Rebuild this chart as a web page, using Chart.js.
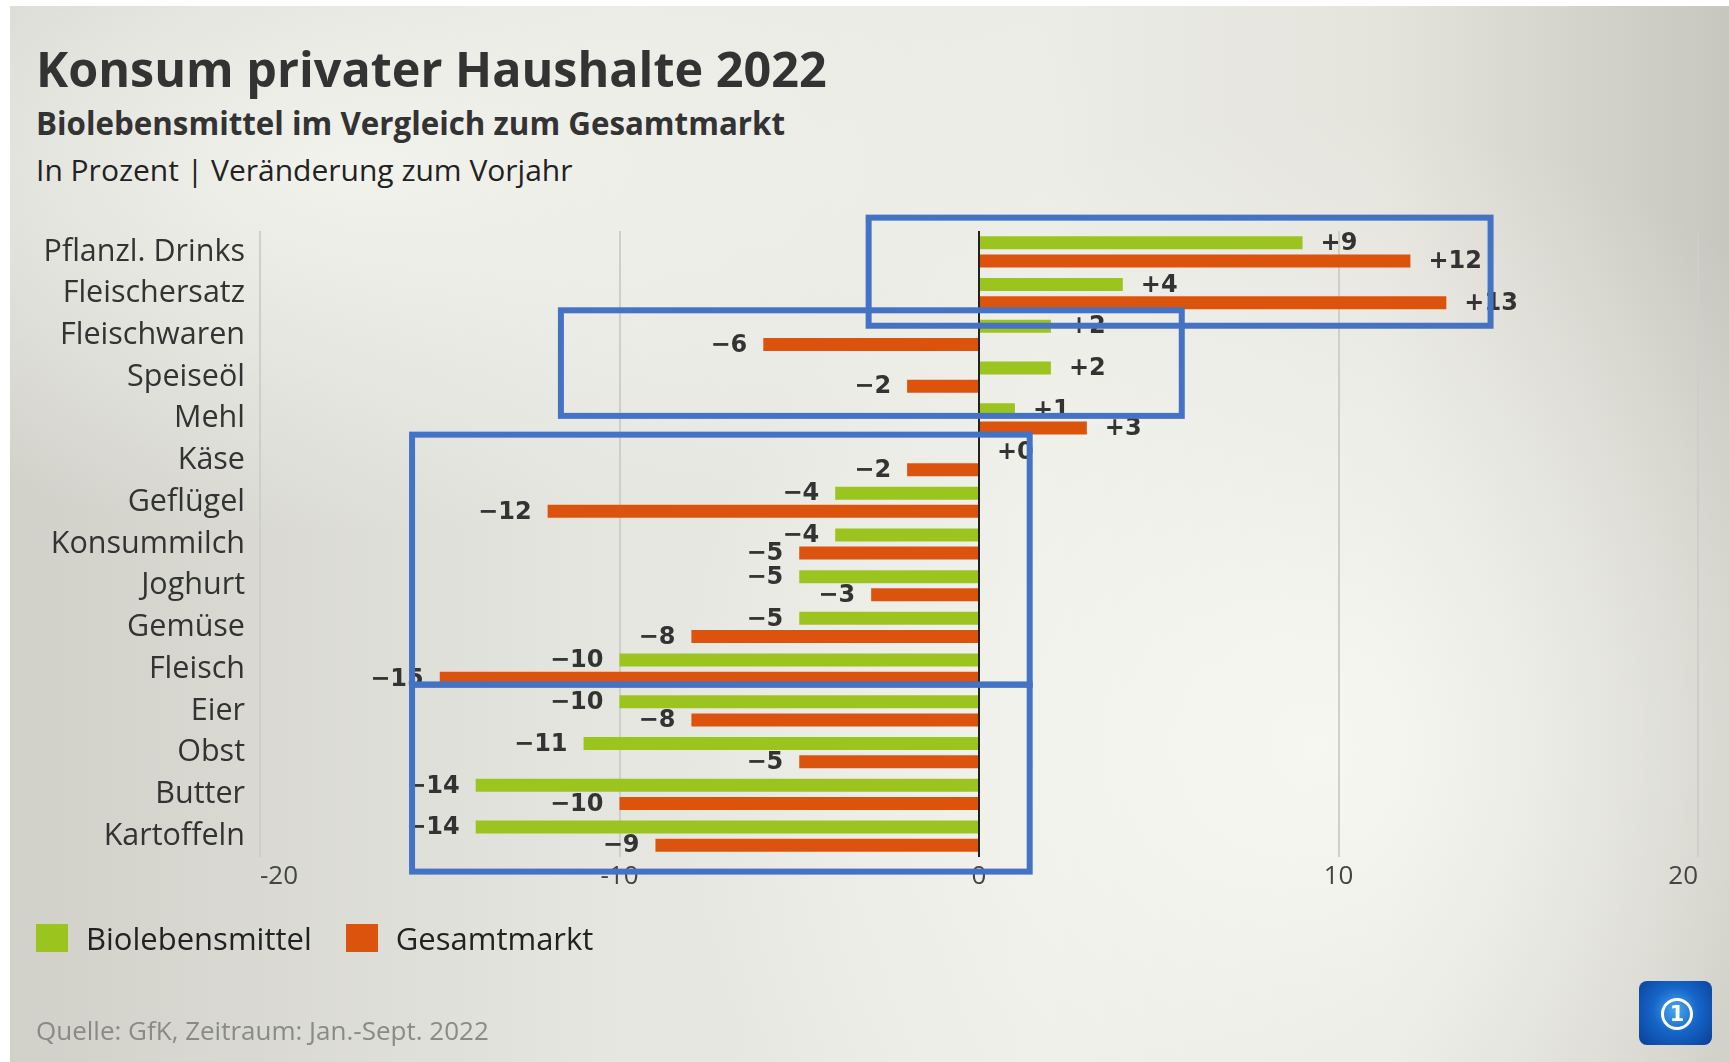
<!DOCTYPE html>
<html lang="de">
<head>
    <meta charset="UTF-8">
    <title>Konsum privater Haushalte 2022</title>
    <script src="https://cdn.jsdelivr.net/npm/chart.js"></script>
    <style>
        html, body {
            margin: 0;
            padding: 0;
        }
        body {
            width: 1729px;
            height: 1062px;
            position: relative;
            overflow: hidden;
            background: #fff;
            font-family: "Open Sans", sans-serif;
            color: #333;
        }
        .panel {
            position: absolute;
            left: 10px;
            top: 6px;
            right: 0;
            bottom: 0;
            background:
                radial-gradient(ellipse 38% 60% at 76% 70%, rgba(248,248,243,0.95), rgba(248,248,243,0) 100%),
                radial-gradient(ellipse 45% 35% at 20% 15%, rgba(245,245,240,0.9), rgba(245,245,240,0) 100%),
                linear-gradient(90deg, #d1d1ca 0%, #e6e6e0 35%, #ecece6 60%, #e4e4dd 80%, #c7c7bf 100%);
        }
        #chartBox {
            position: absolute;
            left: 0;
            top: 0;
            width: 1729px;
            height: 1062px;
        }
        .title {
            position: absolute;
            left: 36px;
            top: 44px;
            font-size: 48.5px;
            line-height: 48px;
            font-weight: 700;
            color: #333;
            white-space: nowrap;
        }
        .subtitle {
            position: absolute;
            left: 36px;
            top: 108px;
            font-size: 31.3px;
            line-height: 31px;
            font-weight: 700;
            color: #333;
            white-space: nowrap;
        }
        .unit {
            position: absolute;
            left: 36px;
            top: 155px;
            font-size: 30px;
            line-height: 30px;
            color: #222;
            white-space: nowrap;
        }
        #legend {
            position: absolute;
            left: 36px;
            top: 922px;
            display: flex;
            align-items: center;
            font-size: 31px;
            line-height: 32px;
            color: #222;
        }
        #legend .item {
            display: flex;
            align-items: center;
            margin-right: 34px;
        }
        #legend .swatch {
            width: 32px;
            height: 28px;
            margin-right: 18px;
        }
        .source {
            position: absolute;
            left: 36px;
            top: 1017px;
            font-size: 26px;
            line-height: 26px;
            color: #8a8a86;
            white-space: nowrap;
        }
        .logo {
            position: absolute;
            left: 1639px;
            top: 981px;
            width: 73px;
            height: 64px;
            border-radius: 8px;
            background: radial-gradient(circle at 50% 45%, #4aa8f0 0%, #1565c8 45%, #0a3f95 100%);
        }
        .logo .ring {
            position: absolute;
            left: 22px;
            top: 17px;
            width: 26px;
            height: 26px;
            border: 3px solid #fff;
            border-radius: 50%;
            color: #fff;
            font: bold 21px "DejaVu Sans", sans-serif;
            line-height: 26px;
            text-align: center;
        }
    </style>
</head>
<body>
    <div class="panel"></div>
    <div class="title">Konsum privater Haushalte 2022</div>
    <div class="subtitle">Biolebensmittel im Vergleich zum Gesamtmarkt</div>
    <div class="unit">In Prozent | Veränderung zum Vorjahr</div>
    <div id="chartBox"><canvas id="konsumChart" width="1729" height="1062"></canvas></div>
    <div id="legend"></div>
    <div class="source">Quelle: GfK, Zeitraum: Jan.-Sept. 2022</div>
    <div class="logo"><div class="ring">1</div></div>

    <script>
        // Werte in Prozent, Veränderung zum Vorjahr
        const categories = ['Pflanzl. Drinks', 'Fleischersatz', 'Fleischwaren', 'Speiseöl', 'Mehl',
            'Käse', 'Geflügel', 'Konsummilch', 'Joghurt', 'Gemüse', 'Fleisch', 'Eier', 'Obst',
            'Butter', 'Kartoffeln'];
        const bioValues = [9, 4, 2, 2, 1, 0, -4, -4, -5, -5, -10, -10, -11, -14, -14];
        const gesamtValues = [12, 13, -6, -2, 3, -2, -12, -5, -3, -8, -15, -8, -5, -10, -9];
        const seriesNames = ['Biolebensmittel', 'Gesamtmarkt'];
        const seriesColors = ['#9cc41f', '#dc530e'];
        const xTicks = [-20, -10, 0, 10, 20];

        // blaue Markierungsrahmen (in Achsen-Einheiten: Wert / Kategorie-Index)
        const highlightX = [[-3.07, 14.23], [-11.63, 5.64], [-15.77, 1.41], [-15.77, 1.41]];
        const highlightY = [[-0.82, 1.77], [1.40, 3.93], [4.38, 10.37], [10.37, 14.85]];

        function fmt(v) {
            return (v < 0 ? '\u2212' : '+') + Math.abs(v);
        }

        const valueLabels = {
            id: 'valueLabels',
            afterDatasetsDraw(chart) {
                const ctx = chart.ctx;
                ctx.save();
                ctx.font = 'bold 24px "DejaVu Sans"';
                ctx.fillStyle = '#333';
                ctx.textBaseline = 'middle';
                chart.data.datasets.forEach((ds, di) => {
                    chart.getDatasetMeta(di).data.forEach((bar, i) => {
                        const v = ds.data[i];
                        if (v >= 0) {
                            ctx.textAlign = 'left';
                            ctx.fillText(fmt(v), bar.x + 18, bar.y + 1);
                        } else {
                            ctx.textAlign = 'right';
                            ctx.fillText(fmt(v), bar.x - 16, bar.y + 1);
                        }
                    });
                });
                ctx.restore();
            }
        };

        const zeroLine = {
            id: 'zeroLine',
            beforeDatasetsDraw(chart) {
                const x = chart.scales.x.getPixelForValue(0);
                const area = chart.chartArea;
                const ctx = chart.ctx;
                ctx.save();
                ctx.strokeStyle = '#222';
                ctx.lineWidth = 2;
                ctx.beginPath();
                ctx.moveTo(x, area.top);
                ctx.lineTo(x, area.bottom);
                ctx.stroke();
                ctx.restore();
            }
        };

        const highlights = {
            id: 'highlights',
            afterDraw(chart) {
                const xs = chart.scales.x, ys = chart.scales.y;
                const ctx = chart.ctx;
                ctx.save();
                ctx.strokeStyle = '#4472c4';
                ctx.lineWidth = 6;
                highlightX.forEach((hx, k) => {
                    const x1 = xs.getPixelForValue(hx[0]);
                    const x2 = xs.getPixelForValue(hx[1]);
                    const y1 = ys.getPixelForValue(highlightY[k][0]);
                    const y2 = ys.getPixelForValue(highlightY[k][1]);
                    ctx.strokeRect(x1, y1, x2 - x1, y2 - y1);
                });
                ctx.restore();
            }
        };

        const ctx = document.getElementById('konsumChart').getContext('2d');
        const chart = new Chart(ctx, {
            type: 'bar',
            data: {
                labels: categories,
                datasets: [
                    { label: seriesNames[0], data: bioValues, backgroundColor: seriesColors[0] },
                    { label: seriesNames[1], data: gesamtValues, backgroundColor: seriesColors[1] }
                ]
            },
            options: {
                indexAxis: 'y',
                responsive: false,
                animation: false,
                categoryPercentage: 0.872,
                barPercentage: 0.714,
                layout: {
                    padding: { left: 20, right: 31, top: 231, bottom: 165 }
                },
                plugins: {
                    legend: { display: false },
                    tooltip: { enabled: false }
                },
                scales: {
                    x: {
                        min: -20,
                        max: 20,
                        afterBuildTicks(scale) {
                            scale.ticks = xTicks.map(v => ({ value: v }));
                        },
                        afterFit(scale) {
                            scale.height = 40;
                        },
                        border: { display: false },
                        grid: {
                            color: ctx => ctx.tick && ctx.tick.value === 0 ? 'rgba(0,0,0,0)' : '#cfcfca',
                            lineWidth: 2,
                            drawTicks: false
                        },
                        ticks: {
                            align: 'inner',
                            padding: 4,
                            color: '#444',
                            font: { family: 'Open Sans', size: 26 },
                            callback: v => v
                        }
                    },
                    y: {
                        afterFit(scale) {
                            scale.width = 240;
                        },
                        border: { display: false },
                        grid: { display: false, drawTicks: false },
                        ticks: {
                            padding: 15,
                            color: '#333',
                            font: { family: 'Open Sans', size: 30.5 }
                        }
                    }
                }
            },
            plugins: [zeroLine, valueLabels, highlights]
        });

        // Legende
        const legend = document.getElementById('legend');
        seriesNames.forEach((name, i) => {
            const item = document.createElement('div');
            item.className = 'item';
            const sw = document.createElement('div');
            sw.className = 'swatch';
            sw.style.background = seriesColors[i];
            item.appendChild(sw);
            item.appendChild(document.createTextNode(name));
            legend.appendChild(item);
        });
    </script>
</body>
</html>
